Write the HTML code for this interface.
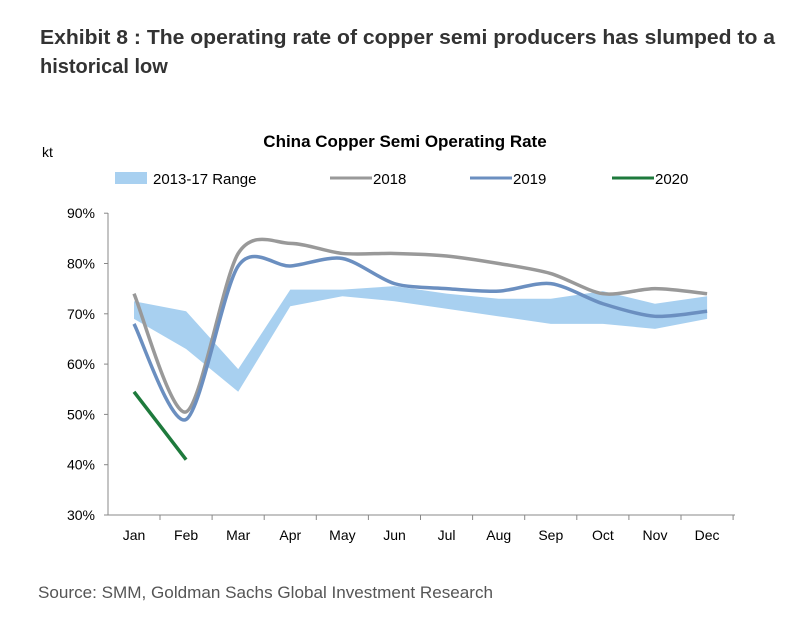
<!DOCTYPE html>
<html><head><meta charset="utf-8"><style>
body{margin:0;background:#fff;font-family:"Liberation Sans",sans-serif}
svg{display:block}
</style></head><body>
<svg id="c" width="800" height="618" xmlns="http://www.w3.org/2000/svg">
<text x="40" y="44" font-size="20" font-weight="bold" fill="#333" textLength="735" lengthAdjust="spacingAndGlyphs">Exhibit 8 : The operating rate of copper semi producers has slumped to a</text>
<text x="40" y="73" font-size="20" font-weight="bold" fill="#333">historical low</text>
<text x="405" y="147" font-size="17" font-weight="bold" fill="#000" text-anchor="middle">China Copper Semi Operating Rate</text>
<text x="42" y="157" font-size="14" fill="#000">kt</text>
<g>
<rect x="115" y="172" width="32" height="12" fill="#a8d0f0"/>
<text x="153" y="184" font-size="15">2013-17 Range</text>
<line x1="330" y1="178" x2="372" y2="178" stroke="#999" stroke-width="3"/>
<text x="373" y="184" font-size="15">2018</text>
<line x1="470" y1="178" x2="512" y2="178" stroke="#6b8fc0" stroke-width="3"/>
<text x="513" y="184" font-size="15">2019</text>
<line x1="612" y1="178" x2="654" y2="178" stroke="#1e7a3c" stroke-width="3"/>
<text x="655" y="184" font-size="15">2020</text>
</g>
<g id="plot"></g>
<text x="38" y="598" font-size="17" fill="#555" textLength="455" lengthAdjust="spacingAndGlyphs">Source: SMM, Goldman Sachs Global Investment Research</text>
</svg>
<script>
const months=["Jan","Feb","Mar","Apr","May","Jun","Jul","Aug","Sep","Oct","Nov","Dec"];
const yTicks=[30,40,50,60,70,80,90];
const rangeHigh=[72.5,70.5,59,74.8,74.8,75.5,74,73,73,74.5,72,73.5];
const rangeLow=[69,63,54.5,71.5,73.5,72.5,71,69.5,68,68,67,69];
const s2018=[74,50.5,82,84,82,82,81.5,80,78,74,75,74];
const s2019=[68,49,79.5,79.5,81,76,75,74.5,76,72,69.5,70.5];
const s2020=[54.5,41];
const NS="http://www.w3.org/2000/svg";
const g=document.getElementById('plot');
const x=i=>134+i*52.1;
const y=v=>515-(v-30)*5.03;
function mk(t,a){const e=document.createElementNS(NS,t);for(const k in a)e.setAttribute(k,a[k]);g.appendChild(e);return e;}
function smooth(arr){const p=arr.map((v,i)=>[x(i),y(v)]);let d=`M${p[0][0]},${p[0][1]}`;const k=7;
for(let i=0;i<p.length-1;i++){const p0=p[i-1]||p[i],p1=p[i],p2=p[i+1],p3=p[i+2]||p2;
d+=` C${p1[0]+(p2[0]-p0[0])/k},${p1[1]+(p2[1]-p0[1])/k} ${p2[0]-(p3[0]-p1[0])/k},${p2[1]-(p3[1]-p1[1])/k} ${p2[0]},${p2[1]}`;}return d;}
let ax=mk('line',{x1:108,y1:213,x2:108,y2:515,stroke:'#888'});


let bx=mk('line',{x1:108,y1:515,x2:735,y2:515,stroke:'#888'});


yTicks.forEach(v=>{
 const t=mk('line',{x1:104,y1:y(v),x2:108,y2:y(v),stroke:'#888'});
 
 
 const l=mk('text',{x:95,y:y(v)+5,'font-size':14,'text-anchor':'end'});l.textContent=v+'%';
 
 
});
months.forEach((m,i)=>{
 const t=mk('line',{x1:x(i)+26,y1:515,x2:x(i)+26,y2:520,stroke:'#888'});
 
 
 const l=mk('text',{x:x(i),y:540,'font-size':14,'text-anchor':'middle'});l.textContent=m;
 
 
});
let pts=rangeHigh.map((v,i)=>x(i)+','+y(v)).concat(rangeLow.map((v,i)=>x(i)+','+y(v)).reverse());
const band=mk('polygon',{points:pts.join(' '),fill:'#a8d0f0'});


const l18=mk('path',{d:smooth(s2018),fill:'none',stroke:'#999',"stroke-width":3.5});


const l19=mk('path',{d:smooth(s2019),fill:'none',stroke:'#6b8fc0',"stroke-width":3.5});


const l20=mk('path',{d:smooth(s2020),fill:'none',stroke:'#1e7a3c',"stroke-width":3.5});


</script>
</body></html>
